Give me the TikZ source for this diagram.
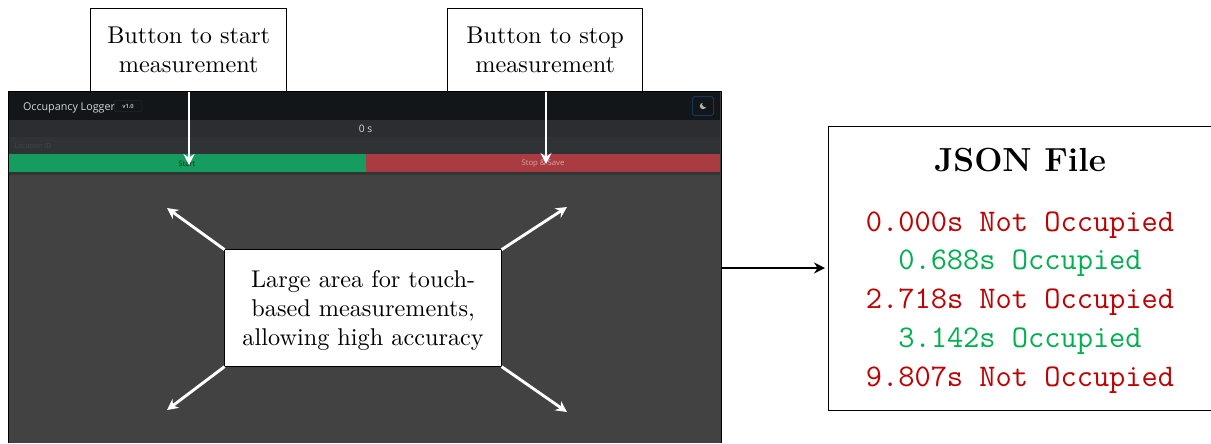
\documentclass[tikz,border=0pt]{standalone}
\usepackage{fontspec}
\setsansfont{Open Sans}
\usetikzlibrary{arrows.meta}
\definecolor{occ}{HTML}{00B050}
\definecolor{nocc}{HTML}{C00000}
\definecolor{shotbg}{HTML}{424242}
\definecolor{hdrbg}{HTML}{121619}
\definecolor{rowa}{HTML}{2B2D30}
\definecolor{rowb}{HTML}{303336}
\definecolor{rowc}{HTML}{333436}
\definecolor{gobtn}{HTML}{159C5F}
\definecolor{stopbtn}{HTML}{A93B41}
\definecolor{uilight}{HTML}{D5D7D8}
\definecolor{uiblue}{HTML}{12375A}
\tikzset{
  x=0.4pt,y=-0.4pt,
  band/.style={draw=none,inner sep=0,outer sep=0,anchor=north west},
  callout/.style={draw=black,fill=white,line width=0.36pt,inner sep=0,outer sep=0,align=center,anchor=north west,font=\fontsize{9.7}{11.7}\selectfont},
  whitearrow/.style={draw=white,line width=1.15pt,-{Stealth[length=4.4pt,width=4.4pt]}},
  blackarrow/.style={draw=black,line width=1.15pt,-{Stealth[length=4.4pt,width=4.4pt]}},
  uitext/.style={inner sep=0,font=\sffamily\fontsize{3.9}{4}\selectfont},
  jsonline/.style={inner sep=0,font=\ttfamily\fontsize{12.6}{15}\selectfont},
}
\newcommand{\bandrect}[6]{\node[band,fill=#1,minimum width=#4*0.4pt,minimum height=#5*0.4pt] (#6) at (#2,#3) {};}
\begin{document}
\begin{tikzpicture}
\useasboundingbox (0,0) rectangle (1211,443);
% screenshot
\bandrect{shotbg}{8.5}{91.5}{713}{351.5}{shot}
\bandrect{hdrbg}{9}{92}{711}{28}{hdr}
\bandrect{rowa}{9}{120}{711}{17}{rowone}
\bandrect{rowb}{9}{137}{711}{17}{rowtwo}
\bandrect{rowc}{9}{172}{711}{3}{rowthree}
\bandrect{gobtn}{9}{154}{356.5}{18}{go}
\bandrect{stopbtn}{365.5}{154}{354.5}{18}{stop}
\draw[black,line width=0.4pt] (8.5,443) -- (8.5,91.5) -- (721,91.5) -- (721,443);
\node[uitext,text=uilight,font=\sffamily\fontsize{4.3}{5}\selectfont] (title) at (69,107.5) {Occupancy Logger};
\node[draw=rowa!70!hdrbg,line width=0.2pt,rounded corners=0.5pt,inner sep=0,minimum width=11pt,minimum height=4.4pt,text=uilight!80!hdrbg,font=\sffamily\bfseries\fontsize{2.3}{3}\selectfont] (ver) at (128,106) {v1.0};
\node[uitext,text=uilight,font=\sffamily\fontsize{4.1}{5}\selectfont] (secs) at (365.5,129) {0 s};
\node[uitext,text=gray!65!black,font=\sffamily\fontsize{2.8}{3}\selectfont,opacity=.55] (loc) at (33,146) {Location ID};
\node[uitext,text=black!75!gobtn,font=\sffamily\fontsize{3}{4}\selectfont] (startlbl) at (187,164) {Start};
\node[uitext,text=white!55!stopbtn,font=\sffamily\fontsize{3.1}{4}\selectfont] (stoplbl) at (543,164) {Stop \& Save};
\node[draw=uiblue,line width=0.4pt,rounded corners=1pt,fill=hdrbg,minimum width=8.4pt,minimum height=7.6pt,inner sep=0] (moon) at (703,106) {};
\fill[uilight!80!hdrbg] (moon.center) circle (3.2);
\fill[hdrbg] ([shift={(2,-1.8)}]moon.center) circle (2.8);
% callouts
\node[callout,minimum width=78.4pt,minimum height=33.2pt] (startbox) at (90.7,8.7) {Button to start\\measurement};
\node[callout,minimum width=78pt,minimum height=33.2pt] (stopbox) at (447.7,8.7) {Button to stop\\measurement};
\node[callout,minimum width=110.8pt,minimum height=46.8pt,text depth=0pt] (areabox) at (224.6,249.6) {Large area for touch-\\based measurements,\\allowing high accuracy};
\node[callout,minimum width=153pt,minimum height=113.4pt] (jsonbox) at (828.6,126.6) {};
\node[inner sep=0,font=\bfseries\fontsize{13.35}{15}\selectfont] (jsontitle) at (1020,160) {JSON File};
\node[jsonline,text=nocc] (lone) at (1020,225) {0.000s Not Occupied};
\node[jsonline,text=occ] (ltwo) at (1020,263.5) {0.688s Occupied};
\node[jsonline,text=nocc] (lthree) at (1020,302.5) {2.718s Not Occupied};
\node[jsonline,text=occ] (lfour) at (1020,341.5) {3.142s Occupied};
\node[jsonline,text=nocc] (lfive) at (1020,380.5) {9.807s Not Occupied};
% connector ends
\coordinate (startend) at (189,165);
\coordinate (stopend) at (546,164);
\coordinate (tl) at (167,208);
\coordinate (tr) at (567,207);
\coordinate (bl) at (167,410);
\coordinate (br) at (567,412);
\coordinate (shotexit) at (721,268);
\coordinate (jsonin) at (825,268);
\draw[whitearrow] (startbox.south -| startend) -- (startend);
\draw[whitearrow] (stopbox.south -| stopend) -- (stopend);
\draw[whitearrow] (areabox.north west) -- (tl);
\draw[whitearrow] (areabox.north east) -- (tr);
\draw[whitearrow] (areabox.south west) -- (bl);
\draw[whitearrow] (areabox.south east) -- (br);
\draw[blackarrow] (shotexit) -- (jsonin);
\end{tikzpicture}
\end{document}
